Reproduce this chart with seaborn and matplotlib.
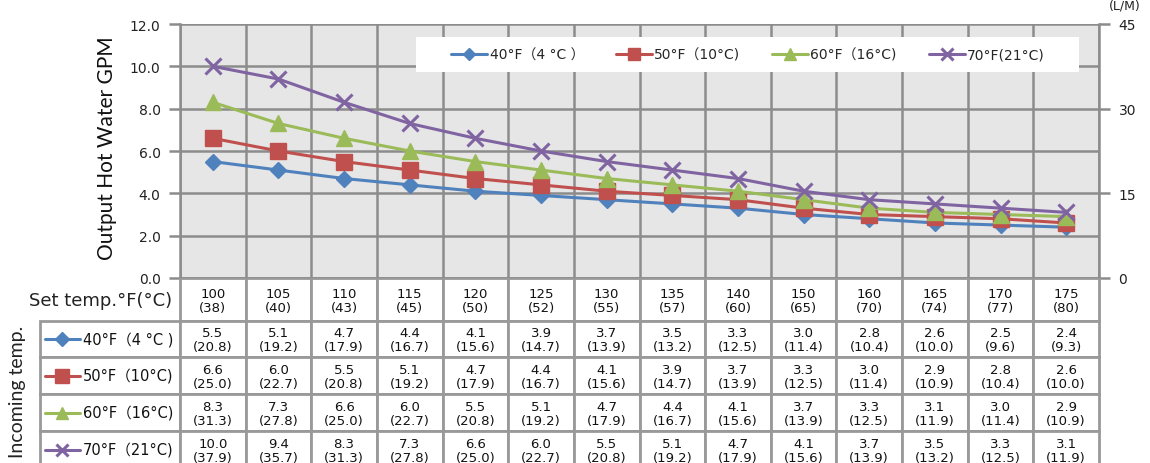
import numpy as np
import pandas as pd
import seaborn as sns
import matplotlib
matplotlib.use("Agg")
import matplotlib.pyplot as plt
from matplotlib.lines import Line2D
from matplotlib.patches import Rectangle

# ---------------- data ----------------
set_f = [100, 105, 110, 115, 120, 125, 130, 135, 140, 150, 160, 165, 170, 175]
set_c = [38, 40, 43, 45, 50, 52, 55, 57, 60, 65, 70, 74, 77, 80]
legend_names = ["40°F（4 °C ）", "50°F（10°C)", "60°F（16°C)", "70°F(21°C)"]
table_names = ["40°F（4 °C )", "50°F（10°C)", "60°F（16°C)", "70°F（21°C)"]
gpm_40 = [5.5, 5.1, 4.7, 4.4, 4.1, 3.9, 3.7, 3.5, 3.3, 3.0, 2.8, 2.6, 2.5, 2.4]
lpm_40 = [20.8, 19.2, 17.9, 16.7, 15.6, 14.7, 13.9, 13.2, 12.5, 11.4, 10.4, 10.0, 9.6, 9.3]
gpm_50 = [6.6, 6.0, 5.5, 5.1, 4.7, 4.4, 4.1, 3.9, 3.7, 3.3, 3.0, 2.9, 2.8, 2.6]
lpm_50 = [25.0, 22.7, 20.8, 19.2, 17.9, 16.7, 15.6, 14.7, 13.9, 12.5, 11.4, 10.9, 10.4, 10.0]
gpm_60 = [8.3, 7.3, 6.6, 6.0, 5.5, 5.1, 4.7, 4.4, 4.1, 3.7, 3.3, 3.1, 3.0, 2.9]
lpm_60 = [31.3, 27.8, 25.0, 22.7, 20.8, 19.2, 17.9, 16.7, 15.6, 13.9, 12.5, 11.9, 11.4, 10.9]
gpm_70 = [10.0, 9.4, 8.3, 7.3, 6.6, 6.0, 5.5, 5.1, 4.7, 4.1, 3.7, 3.5, 3.3, 3.1]
lpm_70 = [37.9, 35.7, 31.3, 27.8, 25.0, 22.7, 20.8, 19.2, 17.9, 15.6, 13.9, 13.2, 12.5, 11.9]
gpm_ticks = [0.0, 2.0, 4.0, 6.0, 8.0, 10.0, 12.0]
lpm_ticks = [0, 15, 30, 45]

gpm_all = [gpm_40, gpm_50, gpm_60, gpm_70]
lpm_all = [lpm_40, lpm_50, lpm_60, lpm_70]

# ---------------- style ----------------
colors = ["#4F81BD", "#C0504D", "#9BBB59", "#8064A2"]
markers = ["D", "s", "^", "x"]
msizes = [8, 12, 11, 11]
GRID = "#8c8c8c"
BG = "#e6e6e6"

sns.set_theme(style="white")
plt.rcParams["font.family"] = ["DejaVu Sans", "Noto Sans CJK JP"]

W, H = 1150, 464
fig = plt.figure(figsize=(W / 100, H / 100), dpi=100)

L, R, T, B = 180, 1099, 25, 279
ax = fig.add_axes([L / W, 1 - B / H, (R - L) / W, (B - T) / H])
ax.set_facecolor(BG)

n = len(set_f)
xpos = np.arange(n)
for vals, col, mk, ms, name in zip(gpm_all, colors, markers, msizes, legend_names):
    df = pd.DataFrame({"x": xpos, "y": vals})
    sns.lineplot(data=df, x="x", y="y", ax=ax, color=col, marker=mk, markersize=ms,
                 markeredgecolor=col, markeredgewidth=2.2 if mk == "x" else 1,
                 linewidth=2.2, label=name, zorder=3)

ax.set_xlim(-0.5, n - 0.5)
ax.set_ylim(0, 12)
ax.set_xticks(np.arange(n + 1) - 0.5)
ax.set_xticklabels([])
ax.tick_params(axis="x", length=0)
ax.set_yticks(gpm_ticks)
ax.set_yticklabels([f"{v:.1f}" for v in gpm_ticks], fontsize=10, color="#222222")
ax.tick_params(axis="y", direction="out", length=8, width=1.8, color=GRID, pad=6)
ax.grid(True, color=GRID, linewidth=1.8)
ax.set_axisbelow(True)
ax.set_xlabel("")
ax.set_ylabel("")
for s in ["left", "bottom", "right", "top"]:
    ax.spines[s].set_color(GRID)
    ax.spines[s].set_linewidth(1.8)
ax.spines["top"].set_visible(False)

ax2 = ax.twinx()
ax2.set_ylim(0, 45)
ax2.set_yticks(lpm_ticks)
ax2.set_yticklabels([str(v) for v in lpm_ticks], fontsize=10, color="#222222")
ax2.tick_params(axis="y", direction="out", length=8, width=1.8, color=GRID, pad=6)
for s in ["left", "bottom", "right", "top"]:
    ax2.spines[s].set_visible(False)
ax2.grid(False)

# legend box (white panel) + legend entries
ax.add_patch(Rectangle(((416 - L) / (R - L), (B - 73) / (B - T)), (1079 - 416) / (R - L),
                       35 / (B - T), transform=ax.transAxes, facecolor="white",
                       edgecolor="none", zorder=4))
leg = ax.legend(loc="center", bbox_to_anchor=((748 - L) / (R - L), (B - 55.5) / (B - T)),
                ncol=4, frameon=False, fontsize=10, handlelength=2.6, columnspacing=2.3,
                handletextpad=0.15, markerscale=0.75)
leg.set_zorder(5)

fig.text(1125 / W, 1 - 6 / H, "(L/M)", fontsize=9, ha="center", va="center", color="#222222")
fig.text(107 / W, 1 - 148 / H, "Output Hot Water GPM", rotation=90, fontsize=15,
         ha="center", va="center", family=["Lato", "DejaVu Sans"], color="#111111")

# ---------------- table ----------------
tb = fig.add_axes([0, 0, 1, (H - B) / H])
tb.set_xlim(0, W)
tb.set_ylim(H, B)
tb.axis("off")
TL = "#999999"
colw = (R - L) / n
row_edges = [279, 322, 358, 395, 432, 469]

# header row
for i in range(n):
    x0 = L + i * colw
    tb.add_patch(Rectangle((x0, row_edges[0]), colw, row_edges[1] - row_edges[0],
                           facecolor="white", edgecolor=TL, linewidth=2))
    tb.text(x0 + colw / 2, (row_edges[0] + row_edges[1]) / 2 + 1,
            f"{set_f[i]}\n({set_c[i]})", ha="center", va="center", fontsize=9.5,
            linespacing=1.15, color="#111111")
tb.text(172, 301, "Set temp.°F(°C)", ha="right", va="center", fontsize=13, color="#222222")

# data rows
for r in range(4):
    y0, y1 = row_edges[r + 1], row_edges[r + 2]
    tb.add_patch(Rectangle((40, y0), L - 40, y1 - y0, facecolor="white", edgecolor=TL, linewidth=2))
    ym = (y0 + y1) / 2
    tb.add_line(Line2D([45, 80], [ym, ym], color=colors[r], linewidth=2.2))
    tb.add_line(Line2D([62], [ym], color=colors[r], marker=markers[r], markersize=msizes[r] * 0.85,
                       markeredgecolor=colors[r], markeredgewidth=2.2 if markers[r] == "x" else 1))
    tb.text(83, ym, table_names[r], ha="left", va="center", fontsize=10.5, color="#111111")
    for i in range(n):
        x0 = L + i * colw
        tb.add_patch(Rectangle((x0, y0), colw, y1 - y0, facecolor="white", edgecolor=TL, linewidth=2))
        tb.text(x0 + colw / 2, ym + 1, f"{gpm_all[r][i]:.1f}\n({lpm_all[r][i]:.1f})",
                ha="center", va="center", fontsize=9.5, linespacing=1.1, color="#111111")

fig.text(18 / W, 1 - 392 / H, "Incoming temp.", rotation=90, fontsize=14,
         ha="center", va="center", family=["Lato", "DejaVu Sans"], color="#222222")

fig.savefig("out.png", dpi=100)
